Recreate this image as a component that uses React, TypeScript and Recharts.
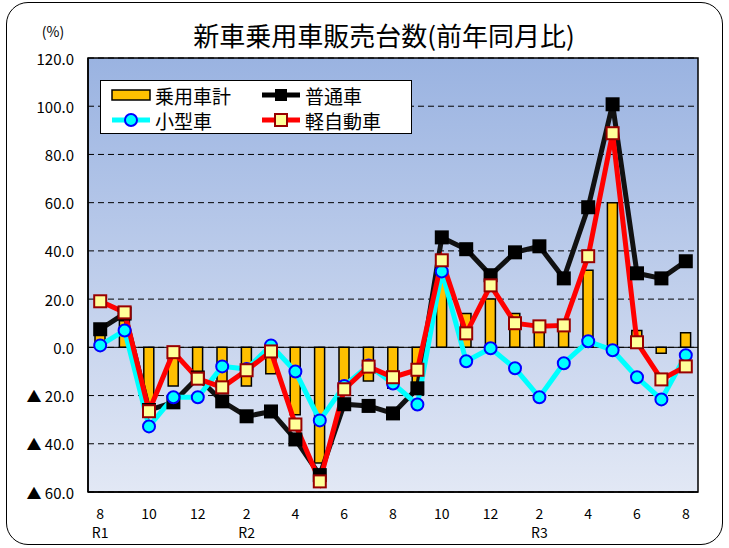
import React from 'react';
import {
  ComposedChart,
  Bar,
  Line,
  XAxis,
  YAxis,
  CartesianGrid,
  ReferenceLine,
  ReferenceArea,
  Legend,
} from 'recharts';

const months = ['8', '9', '10', '11', '12', '1', '2', '3', '4', '5', '6', '7', '8', '9', '10', '11', '12', '1', '2', '3', '4', '5', '6', '7', '8'];
const eras = ['R1', '', '', '', '', '', 'R2', '', '', '', '', '', '', '', '', '', '', '', 'R3', '', '', '', '', '', ''];

const totalCars = [6, 11, -27, -16, -13, -15, -16, -11, -28, -48, -17, -14, -17, -16, 29, 14, 20, 14, 7, 7, 32, 60, 7, -2.5, 6];
const regularCars = [7.5, 14, -26, -22.8, -12.5, -22.4, -28.6, -26.6, -38.2, -53, -23.6, -24.3, -27.4, -17, 45.6, 40.7, 29.9, 39.4, 41.9, 28.6, 58.1, 100.8, 30.7, 28.6, 35.7];
const smallCars = [0.8, 7, -32.8, -20.7, -20.7, -7.9, -9, 0.8, -10, -30.3, -16, -7.5, -15, -23.7, 31.5, -5.8, -0.4, -8.7, -20.7, -6.6, 2.5, -1.2, -12.4, -21.6, -3.3];
const keiCars = [19.1, 14.5, -26.5, -2, -13, -16.6, -9.5, -1.7, -32, -55.6, -17.4, -8, -12.4, -9.3, 36.1, 5.8, 25.7, 10, 8.7, 9.1, 37.8, 88.8, 2.1, -13.3, -7.9];

const yTicks = [-60, -40, -20, 0, 20, 40, 60, 80, 100, 120];

const data = months.map((m, i) => ({
  month: m,
  era: eras[i],
  total: totalCars[i],
  regular: regularCars[i],
  small: smallCars[i],
  kei: keiCars[i],
}));

const FONT = '"Noto Sans CJK JP", "Noto Sans", sans-serif';

const fmtY = (v: number) => (v < 0 ? `▲ ${(-v).toFixed(1)}` : v.toFixed(1));

const XTick = (props: any) => {
  const { x, y, payload } = props;
  const i = payload.index;
  if (i % 2 !== 0) return <g />;
  return (
    <g>
      <text x={x} y={y + 13} textAnchor="middle" dominantBaseline="central" fontSize={14} fill="#000" fontFamily={FONT}>
        {payload.value}
      </text>
      {eras[i] && (
        <text x={x} y={y + 32} textAnchor="middle" dominantBaseline="central" fontSize={14} fill="#000" fontFamily={FONT}>
          {eras[i]}
        </text>
      )}
    </g>
  );
};

const YTick = (props: any) => {
  const { y, payload } = props;
  return (
    <text x={74} y={y} textAnchor="end" dominantBaseline="central" fontSize={15} fill="#000" fontFamily={FONT}>
      {fmtY(payload.value)}
    </text>
  );
};

const squareDot = (fill: string, stroke: string, size: number) => (p: any) => (
  <rect key={`sq-${fill}-${p.index}`} x={p.cx - size / 2} y={p.cy - size / 2} width={size} height={size} fill={fill} stroke={stroke} strokeWidth={2} />
);

const circleDot = (p: any) => (
  <circle key={`c-${p.index}`} cx={p.cx} cy={p.cy} r={6} fill="#00FFFF" stroke="#0000FF" strokeWidth={2} />
);

const LegendBox = () => {
  const text = { fontSize: 19, fontFamily: FONT, fill: '#000' } as const;
  return (
    <svg width={312} height={54} style={{ display: 'block' }}>
      <rect x={0.5} y={0.5} width={311} height={53} fill="#fff" stroke="#000" strokeWidth={1} />
      {/* row 1 */}
      <rect x={12} y={10} width={38} height={10} fill="#FFC000" stroke="#000" strokeWidth={1.5} />
      <text x={55} y={15} dominantBaseline="central" {...text}>乗用車計</text>
      <line x1={162} y1={15} x2={200} y2={15} stroke="#000" strokeWidth={5} />
      <rect x={175} y={9} width={12} height={12} fill="#000" />
      <text x={205} y={15} dominantBaseline="central" {...text}>普通車</text>
      {/* row 2 */}
      <line x1={12} y1={40} x2={50} y2={40} stroke="#00FFFF" strokeWidth={5} />
      <circle cx={31} cy={40} r={6} fill="#00FFFF" stroke="#0000FF" strokeWidth={2} />
      <text x={55} y={40} dominantBaseline="central" {...text}>小型車</text>
      <line x1={162} y1={40} x2={200} y2={40} stroke="#FF0000" strokeWidth={5} />
      <rect x={175} y={34} width={12} height={12} fill="#FFFF99" stroke="#990000" strokeWidth={2} />
      <text x={205} y={40} dominantBaseline="central" {...text}>軽自動車</text>
    </svg>
  );
};

export default function App() {
  return (
    <div style={{ position: 'absolute', left: 0, top: 0, width: 729, height: 548, background: '#fff' }}>
      <div
        style={{
          position: 'absolute',
          left: 6,
          top: 2,
          width: 715,
          height: 541,
          border: '1.5px solid #000',
          borderRadius: 22,
        }}
      />
      <ComposedChart
        width={729}
        height={548}
        data={data}
        margin={{ top: 58, right: 31, bottom: 0, left: 0 }}
        barSize={10}
        style={{ position: 'absolute', left: 0, top: 0 }}
      >
        <defs>
          <linearGradient id="plotBg" x1="0" y1="0" x2="0" y2="1">
            <stop offset="0%" stopColor="#9AB3E1" />
            <stop offset="100%" stopColor="#E2E8F5" />
          </linearGradient>
        </defs>
        <text x={384} y={34} textAnchor="middle" dominantBaseline="central" fontSize={26} fontFamily={FONT} fill="#000">
          新車乗用車販売台数(前年同月比)
        </text>
        <text x={53} y={31} textAnchor="middle" dominantBaseline="central" fontSize={14} fontFamily={FONT} fill="#000">
          (%)
        </text>
        <CartesianGrid vertical={false} stroke="#000" strokeDasharray="6 4" fill="url(#plotBg)" fillOpacity={1} />
        <XAxis
          dataKey="month"
          interval={0}
          height={56}
          tick={<XTick />}
          tickLine={false}
          axisLine={{ stroke: '#000', strokeWidth: 1.5 }}
        />
        <YAxis
          domain={[-60, 120]}
          ticks={yTicks}
          width={88}
          tick={<YTick />}
          tickLine={false}
          axisLine={{ stroke: '#000', strokeWidth: 1.5 }}
        />
        <ReferenceArea y1={-60} y2={120} fill="none" stroke="#000" strokeWidth={1.5} />
        <ReferenceLine y={0} stroke="#000" strokeWidth={1} />
        <Legend layout="horizontal" verticalAlign="middle" align="center" content={<LegendBox />} wrapperStyle={{ left: 100, top: 80, width: 312, height: 54 }} />
        <Bar dataKey="total" name="乗用車計" fill="#FFC000" stroke="#000" strokeWidth={1.5} isAnimationActive={false} />
        <Line dataKey="regular" name="普通車" stroke="#111" strokeWidth={5} dot={squareDot('#000', '#000', 12)} isAnimationActive={false} />
        <Line dataKey="small" name="小型車" stroke="#00FFFF" strokeWidth={5} dot={circleDot} isAnimationActive={false} />
        <Line dataKey="kei" name="軽自動車" stroke="#FF0000" strokeWidth={5} dot={squareDot('#FFFF99', '#990000', 12)} isAnimationActive={false} />
      </ComposedChart>
    </div>
  );
}
